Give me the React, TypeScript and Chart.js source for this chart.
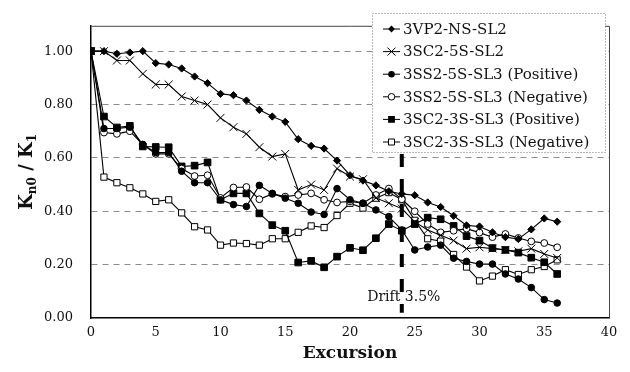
import React, { useEffect, useRef } from "react";
import { Chart, registerables } from "chart.js";

Chart.register(...registerables);

// ---------------- data ----------------
const excursion = [0, 1, 2, 3, 4, 5, 6, 7, 8, 9, 10, 11, 12, 13, 14, 15, 16, 17, 18, 19, 20, 21, 22, 23, 24, 25, 26, 27, 28, 29, 30, 31, 32, 33, 34, 35, 36];

const seriesLabels = [
  "3VP2-NS-SL2",
  "3SC2-5S-SL2",
  "3SS2-5S-SL3 (Positive)",
  "3SS2-5S-SL3 (Negative)",
  "3SC2-3S-SL3 (Positive)",
  "3SC2-3S-SL3 (Negative)",
];

const vp2NsSl2 = [1.0, 1.0, 0.99, 0.995, 1.0, 0.955, 0.95, 0.935, 0.905, 0.88, 0.84, 0.835, 0.815, 0.78, 0.755, 0.735, 0.67, 0.645, 0.635, 0.59, 0.535, 0.515, 0.497, 0.475, 0.465, 0.46, 0.433, 0.416, 0.383, 0.347, 0.343, 0.321, 0.303, 0.296, 0.332, 0.373, 0.361];
const sc25Sl2 = [1.0, 1.0, 0.965, 0.965, 0.915, 0.875, 0.875, 0.83, 0.815, 0.8, 0.75, 0.715, 0.69, 0.64, 0.605, 0.615, 0.48, 0.5, 0.48, 0.56, 0.53, 0.52, 0.45, 0.43, 0.41, 0.36, 0.33, 0.31, 0.29, 0.26, 0.265, 0.26, 0.255, 0.25, 0.26, 0.24, 0.225];
const ss25Positive = [1.0, 0.71, 0.71, 0.715, 0.65, 0.62, 0.62, 0.55, 0.507, 0.507, 0.443, 0.425, 0.418, 0.497, 0.467, 0.449, 0.43, 0.397, 0.388, 0.485, 0.443, 0.43, 0.405, 0.38, 0.33, 0.255, 0.266, 0.273, 0.224, 0.212, 0.202, 0.202, 0.165, 0.146, 0.114, 0.069, 0.056];
const ss25Negative = [1.0, 0.695, 0.69, 0.7, 0.65, 0.615, 0.615, 0.56, 0.532, 0.535, 0.45, 0.489, 0.491, 0.445, 0.465, 0.455, 0.461, 0.467, 0.443, 0.433, 0.437, 0.43, 0.461, 0.485, 0.445, 0.4, 0.352, 0.321, 0.327, 0.335, 0.32, 0.303, 0.315, 0.3, 0.287, 0.281, 0.265];
const sc23Positive = [1.0, 0.755, 0.714, 0.72, 0.643, 0.641, 0.64, 0.568, 0.571, 0.583, 0.443, 0.467, 0.467, 0.392, 0.348, 0.327, 0.208, 0.214, 0.19, 0.23, 0.263, 0.254, 0.299, 0.352, 0.327, 0.352, 0.376, 0.37, 0.345, 0.307, 0.29, 0.262, 0.255, 0.245, 0.226, 0.209, 0.165];
const sc23Negative = [1.0, 0.528, 0.507, 0.488, 0.465, 0.437, 0.443, 0.394, 0.342, 0.33, 0.273, 0.281, 0.279, 0.273, 0.297, 0.297, 0.321, 0.345, 0.339, 0.384, 0.43, 0.412, 0.449, 0.47, 0.443, 0.366, 0.297, 0.288, 0.238, 0.191, 0.139, 0.157, 0.181, 0.163, 0.181, 0.193, 0.218];

const xTickValues = [0, 5, 10, 15, 20, 25, 30, 35, 40];
const yTickValues = [0, 0.2, 0.4, 0.6, 0.8, 1.0];
const driftExcursion = 24;
const driftText = "Drift 3.5%";
const xTitleText = "Excursion";
const yTitleParts: [string, boolean][] = [["K", false], ["n0", true], [" / K", false], ["1", true]];

// ---------------- styles ----------------
const FONT = "'DejaVu Serif', 'Liberation Serif', serif";
const seriesValues = [vp2NsSl2, sc25Sl2, ss25Positive, ss25Negative, sc23Positive, sc23Negative];
const markerKinds = ["diamond", "x", "dot", "ring", "square", "box"];
const pointStyles = ["rectRot", "crossRot", "circle", "circle", "rect", "rect"];
const pointRadii = [3.6, 5.6, 3.3, 3.4, 4.7, 4.4];
const pointFills = ["#000", "#000", "#000", "#fff", "#000", "#fff"];

function drawMarker(ctx: CanvasRenderingContext2D, kind: string, x: number, y: number) {
  ctx.save();
  ctx.lineWidth = 1;
  ctx.strokeStyle = "#000";
  ctx.fillStyle = "#000";
  ctx.beginPath();
  if (kind === "diamond") {
    ctx.moveTo(x, y - 3.4);
    ctx.lineTo(x + 3.4, y);
    ctx.lineTo(x, y + 3.4);
    ctx.lineTo(x - 3.4, y);
    ctx.closePath();
    ctx.fill();
  } else if (kind === "x") {
    ctx.moveTo(x - 4, y - 4);
    ctx.lineTo(x + 4, y + 4);
    ctx.moveTo(x - 4, y + 4);
    ctx.lineTo(x + 4, y - 4);
    ctx.stroke();
  } else if (kind === "dot") {
    ctx.arc(x, y, 3.3, 0, Math.PI * 2);
    ctx.fill();
  } else if (kind === "ring") {
    ctx.fillStyle = "#fff";
    ctx.arc(x, y, 3.3, 0, Math.PI * 2);
    ctx.fill();
    ctx.stroke();
  } else if (kind === "square") {
    ctx.rect(x - 3.4, y - 3.4, 6.8, 6.8);
    ctx.fill();
  } else if (kind === "box") {
    ctx.fillStyle = "#fff";
    ctx.rect(x - 3, y - 3, 6, 6);
    ctx.fill();
    ctx.stroke();
  }
  ctx.restore();
}

const overlayPlugin = {
  id: "overlay",
  afterDraw(chart: any) {
    const ctx: CanvasRenderingContext2D = chart.ctx;
    const { left, right, top, bottom } = chart.chartArea;
    const xs = chart.scales.x;
    const ys = chart.scales.y;

    // frame (top & right)
    ctx.save();
    ctx.strokeStyle = "#444";
    ctx.lineWidth = 1;
    ctx.beginPath();
    ctx.moveTo(left, top + 0.5);
    ctx.lineTo(right + 0.5, top + 0.5);
    ctx.lineTo(right + 0.5, bottom);
    ctx.stroke();
    ctx.restore();

    // legend box geometry
    const lx0 = 372, ly0 = 13, lx1 = 605, ly1 = 152;

    // drift line
    const dx = xs.getPixelForValue(driftExcursion);
    ctx.save();
    ctx.strokeStyle = "#000";
    ctx.lineWidth = 4;
    ctx.setLineDash([13, 12]);
    ctx.beginPath();
    ctx.moveTo(dx, ly1 + 2);
    ctx.lineTo(dx, ys.getPixelForValue(0.02));
    ctx.stroke();
    ctx.restore();

    // drift text
    ctx.save();
    ctx.fillStyle = "#111";
    ctx.font = `14px ${FONT}`;
    ctx.textBaseline = "middle";
    ctx.textAlign = "center";
    ctx.fillText(driftText, dx + 2, ys.getPixelForValue(0.077));
    ctx.restore();

    // legend
    ctx.save();
    ctx.fillStyle = "#fff";
    ctx.fillRect(lx0, ly0, lx1 - lx0, ly1 - ly0);
    ctx.strokeStyle = "#777";
    ctx.lineWidth = 1;
    ctx.setLineDash([1, 2]);
    ctx.strokeRect(lx0 + 0.5, ly0 + 0.5, lx1 - lx0, ly1 - ly0);
    ctx.setLineDash([]);
    const rowStep = 22.6;
    chart.data.datasets.forEach((ds: any, i: number) => {
      const cy = 29 + i * rowStep;
      ctx.strokeStyle = "#000";
      ctx.lineWidth = 1;
      ctx.beginPath();
      ctx.moveTo(383, cy);
      ctx.lineTo(400, cy);
      ctx.stroke();
      drawMarker(ctx, markerKinds[i], 391.5, cy);
      ctx.fillStyle = "#111";
      ctx.font = `15px ${FONT}`;
      ctx.textBaseline = "middle";
      ctx.textAlign = "left";
      ctx.fillText(ds.label, 403, cy + 1);
    });
    ctx.restore();

    // y title with subscripts
    ctx.save();
    const cyTitle = (top + bottom) / 2;
    ctx.translate(25, cyTitle);
    ctx.rotate(-Math.PI / 2);
    ctx.fillStyle = "#111";
    ctx.textBaseline = "alphabetic";
    ctx.textAlign = "left";
    const bigFont = `bold 18px ${FONT}`;
    const subFont = `bold 12px ${FONT}`;
    let total = 0;
    yTitleParts.forEach(([t, sub]) => {
      ctx.font = sub ? subFont : bigFont;
      total += ctx.measureText(t).width;
    });
    let px = -total / 2;
    yTitleParts.forEach(([t, sub]) => {
      ctx.font = sub ? subFont : bigFont;
      ctx.fillText(t, px, sub ? 10.5 : 6.5);
      px += ctx.measureText(t).width;
    });
    ctx.restore();
  },
};

export default function App() {
  const canvasRef = useRef<HTMLCanvasElement | null>(null);

  useEffect(() => {
    const canvas = canvasRef.current;
    if (!canvas) return;
    const datasets = seriesValues.map((vals, i) => ({
      label: seriesLabels[i],
      data: excursion.map((x, j) => ({ x, y: vals[j] })),
      borderColor: "#000",
      borderWidth: 1.1,
      pointStyle: pointStyles[i],
      pointRadius: pointRadii[i],
      pointBackgroundColor: pointFills[i],
      pointBorderColor: "#000",
      pointBorderWidth: 1,
      fill: false,
      tension: 0,
    }));

    const chart = new Chart(canvas, {
      type: "line",
      data: { datasets },
      options: {
        responsive: false,
        animation: false,
        layout: { padding: { top: 18, right: 21, left: 0, bottom: 0 } },
        plugins: { legend: { display: false }, tooltip: { enabled: false } },
        scales: {
          x: {
            type: "linear",
            min: 0,
            max: 40,
            afterFit: (s: any) => {
              s.height = 54;
            },
            afterBuildTicks: (s: any) => {
              s.ticks = xTickValues.map((v) => ({ value: v }));
            },
            grid: { display: false, drawTicks: false },
            border: { color: "#000", width: 1.5 },
            ticks: { padding: 7, color: "#111", font: { family: FONT, size: 13 }, maxRotation: 0 },
            title: {
              display: true,
              text: xTitleText,
              color: "#111",
              font: { family: FONT, size: 17, weight: "bold" },
              padding: { top: 0, bottom: 8 },
            },
          },
          y: {
            type: "linear",
            min: 0,
            max: 1.095,
            afterFit: (s: any) => {
              s.width = 91;
            },
            afterBuildTicks: (s: any) => {
              s.ticks = yTickValues.map((v) => ({ value: v }));
            },
            grid: {
              drawTicks: false,
              color: (c: any) => (c.tick && c.tick.value === 0 ? "rgba(0,0,0,0)" : "#8c8c8c"),
              lineWidth: 1,
            },
            border: { color: "#000", width: 1.5, dash: [6, 5] },
            ticks: {
              padding: 18,
              color: "#111",
              font: { family: FONT, size: 13 },
              callback: (v: any) => Number(v).toFixed(2),
            },
            title: { display: false },
          },
        },
      } as any,
      plugins: [overlayPlugin],
    });
    return () => chart.destroy();
  }, []);

  return (
    <div style={{ position: "fixed", left: 0, top: 0, width: 630, height: 372, background: "#fff" }}>
      <canvas ref={canvasRef} width={630} height={372} style={{ display: "block" }} />
    </div>
  );
}
